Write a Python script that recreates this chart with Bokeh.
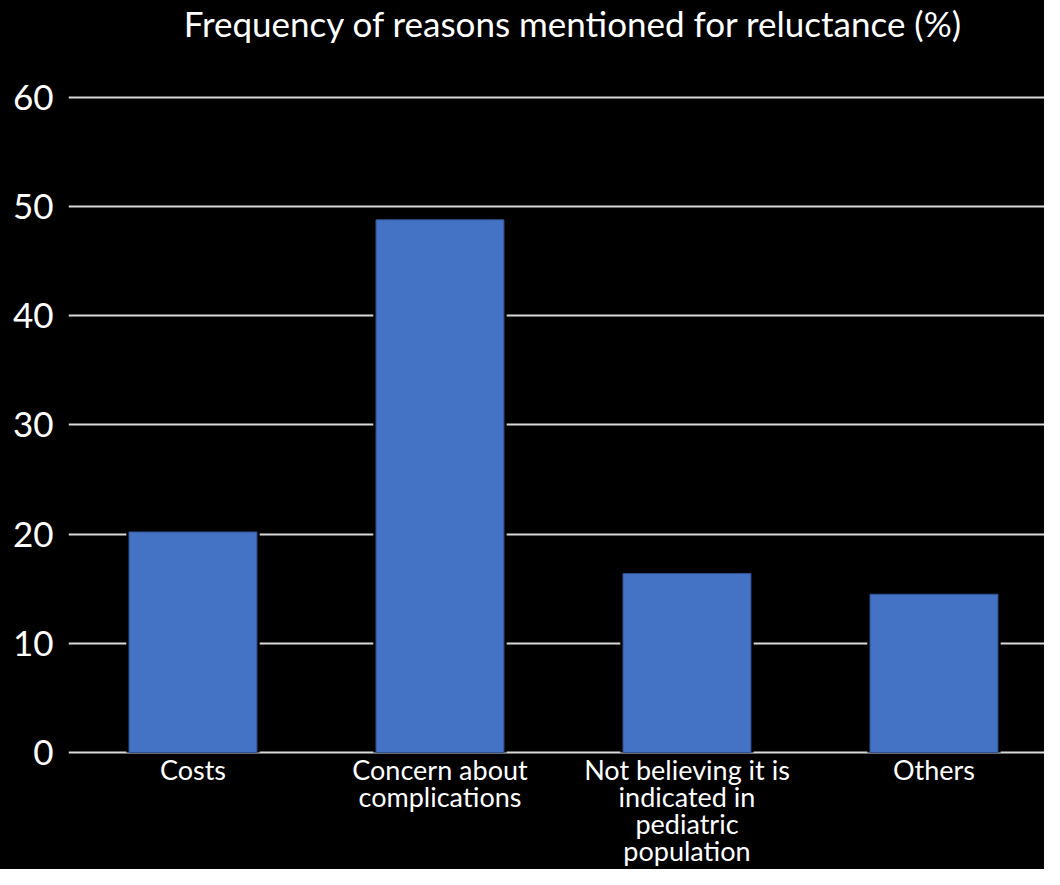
from bokeh.plotting import figure
from bokeh.models import Range1d, FixedTicker, Label
from bokeh.embed import file_html
from bokeh.resources import INLINE

# ---- Data ----
categories = ["Costs", "Concern about\ncomplications",
              "Not believing it is\nindicated in\npediatric\npopulation", "Others"]
values = [20.2, 48.8, 16.4, 14.5]
y_ticks = [0, 10, 20, 30, 40, 50, 60]
title_text = "Frequency of reasons mentioned for reluctance (%)"

# ---- Layout (pixels) ----
FONT = "Lato"
W, H = 1044, 869
LEFT = 68            # frame left
ZERO_Y = 752         # pixel row of value 0
PX_PER_UNIT = 10.917 # pixels per 1 unit of value
BAND = 247           # pixels per category
X0 = -0.004          # x-range start (category units)

xs = [i + 0.5 for i in range(len(categories))]

x_end = X0 + (W - LEFT) / BAND
y_start = -(H - ZERO_Y) / PX_PER_UNIT
y_end = ZERO_Y / PX_PER_UNIT

p = figure(width=W, height=H, output_backend="svg", toolbar_location=None,
           x_range=Range1d(X0, x_end), y_range=Range1d(y_start, y_end),
           min_border_left=LEFT, min_border_right=0, min_border_top=0, min_border_bottom=0)
p.background_fill_color = "#000000"
p.border_fill_color = "#000000"
p.outline_line_color = None
p.styles = {"background-color": "#000000"}

# bars: black halo then blue bar
p.vbar(x=xs, top=values, bottom=0, width=0.54, fill_color="#000000", line_color=None)
p.vbar(x=xs, top=values, bottom=0, width=0.518, fill_color="#4472C4",
       line_color="#2F528F", line_width=1)

# grid
p.xgrid.grid_line_color = None
p.ygrid.ticker = FixedTicker(ticks=y_ticks)
p.ygrid.grid_line_color = "#D9D9D9"
p.ygrid.grid_line_width = 2

# y axis
p.yaxis.ticker = FixedTicker(ticks=y_ticks)
p.yaxis.axis_line_color = None
p.yaxis.major_tick_line_color = None
p.yaxis.minor_tick_line_color = None
p.yaxis.major_label_text_color = "#FFFFFF"
p.yaxis.major_label_text_font = FONT
p.yaxis.major_label_text_font_size = "35px"
p.yaxis.major_label_standoff = 9

# x axis: hidden, category labels drawn as text under the bars
p.xaxis.visible = False
p.text(x=xs, y=[0] * len(xs), text=categories, y_offset=0,
       text_align="center", text_baseline="top", text_color="#FFFFFF",
       text_font={"value": FONT}, text_font_size="27px", text_line_height=0.82)

# title
p.add_layout(Label(x=X0 + (573 - LEFT) / BAND, y=(ZERO_Y - 22) / PX_PER_UNIT,
                   text=title_text, text_align="center", text_baseline="middle",
                   text_color="#FFFFFF", text_font=FONT, text_font_size="35px"))

open("out.html", "w").write(file_html(p, INLINE))
